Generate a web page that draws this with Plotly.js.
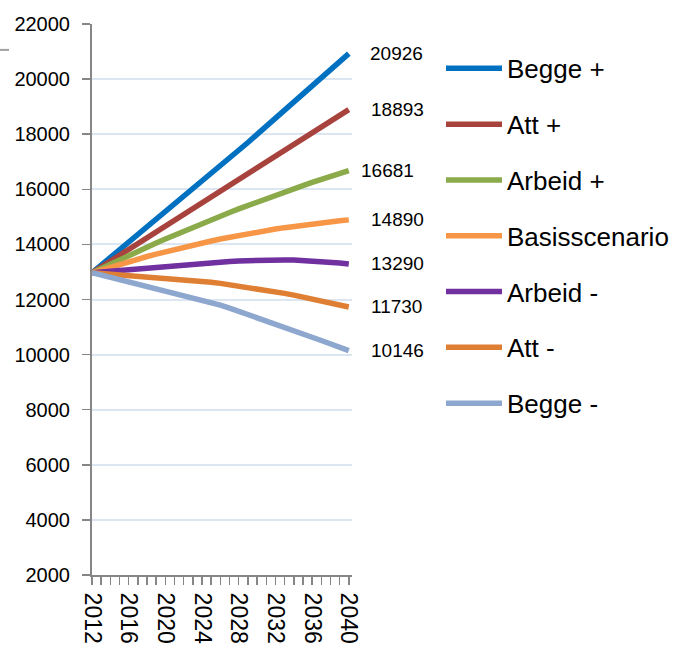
<!DOCTYPE html>
<html>
<head>
<meta charset="utf-8">
<script src="https://cdn.plot.ly/plotly-3.0.1.min.js"></script>
<style>html,body{margin:0;padding:0;background:#fff;}</style>
</head>
<body>
<div id="chart" style="width:676px;height:648px;"></div>
<script>
const years = [2012,2013,2014,2015,2016,2017,2018,2019,2020,2021,2022,2023,2024,2025,2026,2027,2028,2029,2030,2031,2032,2033,2034,2035,2036,2037,2038,2039,2040];
const seriesNames = ["Begge +","Att +","Arbeid +","Basisscenario","Arbeid -","Att -","Begge -"];
const beggePlus = [12970,13245,13520,13795,14070,14345,14620,14895,15170,15445,15720,15995,16270,16545,16820,17113,17406,17699,17992,18285,18578,18871,19164,19457,19750,20043,20336,20629,20926];
const attPlus = [12970,13182,13393,13605,13816,14028,14239,14451,14662,14874,15085,15297,15508,15720,15931,16143,16354,16566,16777,16989,17200,17412,17623,17835,18046,18258,18469,18681,18893];
const arbeidPlus = [12970,13130,13288,13444,13598,13750,13900,14048,14194,14338,14480,14620,14758,14894,15028,15159,15288,15415,15540,15663,15784,15903,16020,16135,16248,16359,16468,16575,16681];
const basis = [12970,13075,13177,13277,13374,13468,13560,13649,13735,13818,13899,13977,14052,14125,14195,14262,14326,14388,14447,14503,14557,14608,14656,14702,14745,14785,14822,14857,14890];
const arbeidMinus = [12970,13000,13028,13055,13082,13108,13133,13160,13190,13220,13250,13280,13308,13335,13360,13382,13400,13415,13427,13435,13438,13436,13430,13418,13402,13382,13357,13326,13290];
const attMinus = [12970,12945,12922,12900,12880,12860,12840,12818,12795,12770,12740,12705,12668,12628,12585,12540,12492,12442,12390,12336,12280,12222,12158,12090,12020,11950,11878,11805,11730];
const beggeMinus = [12970,12888,12806,12725,12644,12563,12482,12400,12318,12236,12153,12069,11984,11897,11795,11688,11576,11461,11344,11226,11107,10988,10869,10750,10631,10512,10393,10272,10146];
const allSeries = [beggePlus, attPlus, arbeidPlus, basis, arbeidMinus, attMinus, beggeMinus];
const colors = ["#0070C0","#A8423D","#8BAA4A","#F79646","#7030A0","#DF7F33","#8EA7CE"];
const labelShift = [19,20,10,20,20,20,20];

const traces = allSeries.map((ys, i) => ({
  x: years, y: ys, name: seriesNames[i], type: 'scatter', mode: 'lines',
  line: {color: colors[i], width: 5.5},
  legendgroup: 'g' + i, hoverinfo: 'skip'
}));

const annotations = allSeries.map((ys, i) => ({
  x: years[years.length-1], y: ys[ys.length-1], xref: 'x', yref: 'y',
  text: String(ys[ys.length-1]), showarrow: false, xanchor: 'left', yanchor: 'middle',
  xshift: labelShift[i], font: {size: 19, color: '#000', family: 'Liberation Sans, Arial, sans-serif'}
}));

const layout = {
  width: 676, height: 648,
  margin: {l: 92, r: 324, t: 24, b: 73, pad: 0, autoexpand: false},
  paper_bgcolor: '#fff', plot_bgcolor: '#fff',
  font: {family: 'Liberation Sans, Arial, sans-serif', color: '#000'},
  showlegend: true,
  xaxis: {
    range: [2012, 2040.35], tickmode: 'linear', tick0: 2012, dtick: 4,
    ticks: 'outside', ticklen: 8, tickwidth: 1.5, tickcolor: '#868686',
    showline: true, linecolor: '#868686', linewidth: 2,
    tickangle: 90, tickfont: {size: 23, color: '#000'}, ticklabelstandoff: 3,
    showgrid: false, zeroline: false, fixedrange: true, automargin: false,
    minor: {tick0: 2012, dtick: 1, ticks: 'outside', ticklen: 8, tickwidth: 1.5, tickcolor: '#868686', showgrid: false}
  },
  yaxis: {
    range: [2000, 22000], tickmode: 'linear', tick0: 2000, dtick: 2000, tickformat: 'd',
    ticks: 'outside', ticklen: 8, tickwidth: 1.5, tickcolor: '#868686',
    showline: true, linecolor: '#868686', linewidth: 2,
    showgrid: true, gridcolor: '#DCE6F2', gridwidth: 2,
    tickfont: {size: 20, color: '#000'}, ticklabelstandoff: 8,
    zeroline: false, fixedrange: true, automargin: false
  },
  legend: {
    xref: 'container', x: 441/676, xanchor: 'left', yref: 'paper', y: 0.962, yanchor: 'top',
    font: {size: 26, color: '#000'}, tracegroupgap: 19, itemwidth: 56,
    bgcolor: 'rgba(0,0,0,0)', borderwidth: 0
  },
  annotations: annotations,
  shapes: [{type: 'line', xref: 'paper', yref: 'paper', x0: -92/260, x1: -83/260, y0: 0.953, y1: 0.953, line: {color: '#A0A0A0', width: 2}}]
};

Plotly.newPlot('chart', traces, layout, {displayModeBar: false, staticPlot: true});
</script>
</body>
</html>
